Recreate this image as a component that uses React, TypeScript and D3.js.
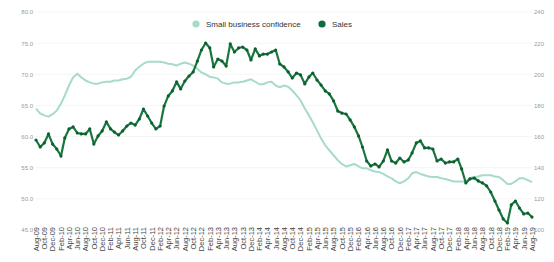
import { useEffect, useRef } from "react";
import * as d3 from "d3";

// monthly, Aug-09 .. Aug-19
const firstMonth = new Date(2009, 7, 1);

const confidence = [
  64.5, 63.7, 63.4, 63.2, 63.6, 64.2, 65.3, 66.6, 68.2, 69.5, 70.1, 69.5, 69.0, 68.7, 68.5,
  68.5, 68.7, 68.8, 68.8, 69.0, 69.0, 69.2, 69.3, 69.6, 70.6, 71.2, 71.7, 72.0, 72.0, 72.0,
  72.0, 71.9, 71.7, 71.6, 71.4, 71.7, 71.9, 71.7, 71.4, 70.9, 70.3, 70.0, 69.6, 69.5, 69.3,
  68.7, 68.5, 68.5, 68.7, 68.7, 68.8, 69.0, 69.2, 68.8, 68.4, 68.4, 68.7, 68.8, 68.2, 67.9,
  68.2, 68.0, 67.4, 66.6, 65.8, 64.5, 63.4, 62.3, 61.0, 59.7, 58.6, 57.8, 57.0, 56.2, 55.6,
  55.2, 55.4, 55.6, 55.2, 54.9, 54.9, 54.6, 54.4, 54.3, 54.0, 53.6, 53.3, 52.8, 52.5, 52.8,
  53.3, 54.1, 54.3, 54.0, 53.8, 53.6, 53.5, 53.5, 53.3, 53.2, 53.0, 52.8, 52.8, 52.8, 52.8,
  53.3, 53.5, 53.6, 53.8, 53.8, 53.8, 53.6, 53.5, 53.0, 52.4, 52.4, 52.8, 53.3, 53.3, 53.0,
  52.7,
];

const sales = [
  157.8, 153.3, 155.9, 161.7, 155.2, 152.0, 147.5, 159.1, 164.9, 166.2, 162.3, 161.7, 161.7, 164.9, 155.2,
  160.4, 163.6, 169.4, 164.9, 162.9, 161.0, 163.6, 166.8, 168.7, 167.4, 171.3, 177.7, 173.2, 168.7, 164.9,
  166.8, 179.6, 186.1, 189.3, 195.1, 190.6, 195.7, 198.9, 201.5, 208.5, 215.6, 220.1, 216.9, 204.7, 209.8,
  208.5, 205.3, 219.5, 214.3, 216.9, 217.5, 215.6, 209.2, 216.3, 211.8, 213.0, 213.0, 214.3, 215.6, 206.6,
  204.7, 201.5, 197.6, 200.8, 199.6, 193.8, 198.3, 200.8, 196.3, 193.1, 189.3, 187.4, 182.9, 176.4, 175.1,
  174.5, 170.7, 166.2, 160.4, 153.3, 144.3, 141.1, 142.4, 140.5, 144.3, 151.4, 144.3, 143.0, 146.2, 143.7,
  145.0, 149.5, 155.9, 157.2, 152.7, 152.7, 152.0, 144.3, 145.6, 143.0, 143.7, 143.7, 145.6, 139.2, 130.2,
  132.8, 133.4, 131.5, 130.2, 128.3, 124.4, 118.6, 112.8, 107.1, 104.5, 116.1, 118.6, 114.1, 110.3, 110.9,
  108.3,
];

const leftTicks = [45, 50, 55, 60, 65, 70, 75, 80];
const rightTicks = [100, 120, 140, 160, 180, 200, 220, 240];
const seriesNames = ["Small business confidence", "Sales"];
const seriesColors = ["#a7dbc9", "#17773f"];

export default function App() {
  const svgRef = useRef<SVGSVGElement | null>(null);

  useEffect(() => {
    if (!svgRef.current) return;
    const width = 554;
    const height = 262;
    const left = 36, right = 532, top = 12, bottom = 230;
    const font = "'Liberation Sans', Arial, sans-serif";

    const svg = d3.select(svgRef.current).attr("width", width).attr("height", height);
    svg.selectAll("*").remove();

    const months = sales.map((_, i) => d3.timeMonth.offset(firstMonth, i));

    const x = d3.scaleTime()
      .domain(d3.extent(months) as [Date, Date])
      .range([left, right]);
    const yL = d3.scaleLinear().domain([45, 80]).range([bottom, top]);
    const yR = d3.scaleLinear().domain([100, 240]).range([bottom, top]);

    // faint grid
    svg.append("g")
      .selectAll("line")
      .data(leftTicks)
      .join("line")
      .attr("x1", left)
      .attr("x2", right)
      .attr("y1", d => yL(d))
      .attr("y2", d => yL(d))
      .attr("stroke", "#f3f3f3")
      .attr("stroke-width", 0.8);

    const yAxisL = svg.append("g")
      .attr("transform", `translate(${left - 3},0)`)
      .call(d3.axisLeft(yL).tickValues(leftTicks).tickSize(0).tickPadding(0).tickFormat(d3.format(".1f")));
    const yAxisR = svg.append("g")
      .attr("transform", `translate(${right + 2},0)`)
      .call(d3.axisRight(yR).tickValues(rightTicks).tickSize(0).tickPadding(0));
    [yAxisL, yAxisR].forEach(a => {
      a.select(".domain").remove();
      a.selectAll("text").style("font-size", "6px").style("font-family", font).attr("fill", "#9a9a9a");
    });

    const xAxis = svg.append("g")
      .attr("transform", `translate(0,${bottom - 4})`)
      .call(d3.axisBottom(x)
        .tickValues(months.filter((_, i) => i % 2 === 0))
        .tickFormat(d3.timeFormat("%b-%y") as any)
        .tickSize(0)
        .tickPadding(0));
    xAxis.select(".domain").remove();
    xAxis.selectAll("text")
      .attr("transform", "rotate(-90)")
      .attr("text-anchor", "end")
      .attr("x", -1)
      .attr("dx", 0)
      .attr("y", 0)
      .attr("dy", "0.32em")
      .style("font-size", "7.5px")
      .style("font-family", font)
      .attr("fill", "#444");

    const confLine = d3.line<number>()
      .x((_, i) => x(months[i]))
      .y(d => yL(d));
    const salesLine = d3.line<number>()
      .x((_, i) => x(months[i]))
      .y(d => yR(d));

    svg.append("path")
      .datum(confidence)
      .attr("fill", "none")
      .attr("stroke", seriesColors[0])
      .attr("stroke-width", 2)
      .attr("stroke-linejoin", "round")
      .attr("d", confLine);

    svg.append("path")
      .datum(sales)
      .attr("fill", "none")
      .attr("stroke", seriesColors[1])
      .attr("stroke-width", 2.2)
      .attr("stroke-linejoin", "round")
      .attr("d", salesLine);

    svg.append("g")
      .selectAll("circle")
      .data(sales)
      .join("circle")
      .attr("cx", (_, i) => x(months[i]))
      .attr("cy", d => yR(d))
      .attr("r", 1.6)
      .attr("fill", "#0f5e30");

    // legend
    const legend = svg.append("g").attr("transform", "translate(196,24)");
    const offsets = [0, 126];
    seriesNames.forEach((name, i) => {
      const item = legend.append("g").attr("transform", `translate(${offsets[i]},0)`);
      item.append("circle").attr("r", 3.6).attr("fill", i === 0 ? seriesColors[0] : "#0d6b3f");
      item.append("text")
        .attr("x", 10)
        .attr("y", 2.8)
        .style("font-size", "8px")
        .style("font-family", font)
        .attr("fill", "#333")
        .text(name);
    });
  }, []);

  return (
    <div style={{ position: "absolute", left: 0, top: 0, background: "#fff" }}>
      <svg ref={svgRef}></svg>
    </div>
  );
}
